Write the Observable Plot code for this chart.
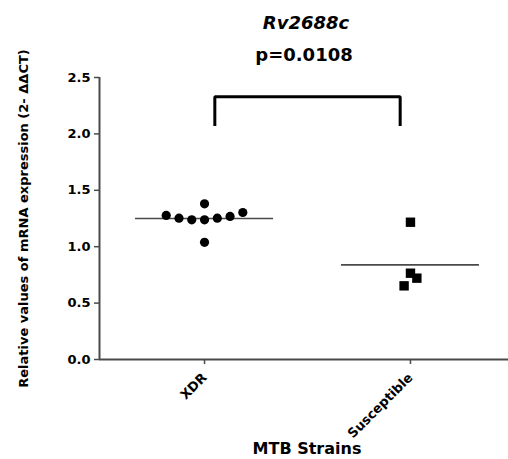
<!DOCTYPE html>
<html><head><meta charset="utf-8">
<script src="https://cdn.jsdelivr.net/npm/d3@7"></script>
<script src="https://cdn.jsdelivr.net/npm/@observablehq/plot@0.6"></script>
<style>body{margin:0;background:#fff}</style>
</head><body><div id="chart"></div>
<script>
// ---- data ----
const categories = ["XDR", "Susceptible"];
const xdrValues = [1.277, 1.253, 1.238, 1.238, 1.380, 1.039, 1.253, 1.268, 1.303];
const xdrSlots  = [-3, -2, -1, 0, 0, 0, 1, 2, 3];
const suscValues = [1.217, 0.765, 0.721, 0.653];
const suscSlots  = [0, 0, 0.5, -0.5];
const yTicks = [0, 0.5, 1.0, 1.5, 2.0, 2.5];
const geneName = "Rv2688c";
const pValueText = "p=0.0108";
const bracketLevel = 2.33;
const bracketFoot = 2.07;

// ---- build ----
const slotStep = 0.062;
const points = [
  ...xdrValues.map((v, i) => ({group: 0, value: v, slot: xdrSlots[i]})),
  ...suscValues.map((v, i) => ({group: 1, value: v, slot: suscSlots[i]}))
];
const pos = g => g + 1;
const means = categories.map((c, g) => ({group: g, mean: d3.mean(points.filter(p => p.group === g), p => p.value)}));
const bracket = [
  {x: pos(0) + 0.05, y: bracketFoot},
  {x: pos(0) + 0.05, y: bracketLevel},
  {x: pos(1) - 0.05, y: bracketLevel},
  {x: pos(1) - 0.05, y: bracketFoot}
];
const xDomain = [0.49, 2.476];
const axisColor = "#4a4a4a";

const chart = Plot.plot({
  width: 508,
  height: 459,
  marginTop: 77,
  marginBottom: 100,
  marginLeft: 99,
  marginRight: 0,
  style: {fontFamily: "DejaVu Sans", fontWeight: "bold", fontSize: "13px", background: "#fff", color: "#000"},
  x: {domain: xDomain, axis: null},
  y: {domain: [0, 2.5], axis: null},
  marks: [
    Plot.axisY({ticks: yTicks, tickFormat: d3.format(".1f"), tickSize: 5, tickPadding: 4, stroke: axisColor, strokeWidth: 1.5, fill: "#000", label: null, fontSize: 13}),
    Plot.axisX({ticks: categories.map((c, g) => pos(g)), tickFormat: d => categories[d - 1], tickSize: 5, tickPadding: 11, tickRotate: -45, stroke: axisColor, strokeWidth: 1.5, fill: "#000", label: null, fontSize: 13}),
    Plot.ruleX([xDomain[0]], {stroke: axisColor, strokeWidth: 2}),
    Plot.ruleY([0], {stroke: axisColor, strokeWidth: 2}),
    Plot.ruleY(means, {y: "mean", x1: d => pos(d.group) - 0.335, x2: d => pos(d.group) + 0.335, stroke: axisColor, strokeWidth: 1.6}),
    Plot.dot(points.filter(p => p.group === 0), {x: d => pos(d.group) + d.slot * slotStep, y: "value", r: 4.6, fill: "#000", stroke: "none"}),
    Plot.dot(points.filter(p => p.group === 1), {x: d => pos(d.group) + d.slot * slotStep, y: "value", r: 5.3, symbol: "square", fill: "#000", stroke: "none"}),
    Plot.line(bracket, {x: "x", y: "y", stroke: "#000", strokeWidth: 3, strokeLinejoin: "miter", strokeLinecap: "butt"}),
    Plot.text([geneName], {frameAnchor: "top", lineAnchor: "bottom", dy: -49, dx: 2, fontSize: 18, fontStyle: "italic", fill: "#000"}),
    Plot.text([pValueText], {frameAnchor: "top", lineAnchor: "bottom", dy: -17, fontSize: 18, fill: "#000"}),
    Plot.text(["Relative values of mRNA expression (2- ΔΔCT)"], {frameAnchor: "left", textAnchor: "middle", rotate: -90, dx: -76, fontSize: 13, fill: "#000", lineAnchor: "middle"}),
    Plot.text(["MTB Strains"], {frameAnchor: "bottom", lineAnchor: "bottom", dy: 94, dx: 3, fontSize: 16, fill: "#000"})
  ]
});
document.getElementById("chart").appendChild(chart);
</script>
</body></html>
